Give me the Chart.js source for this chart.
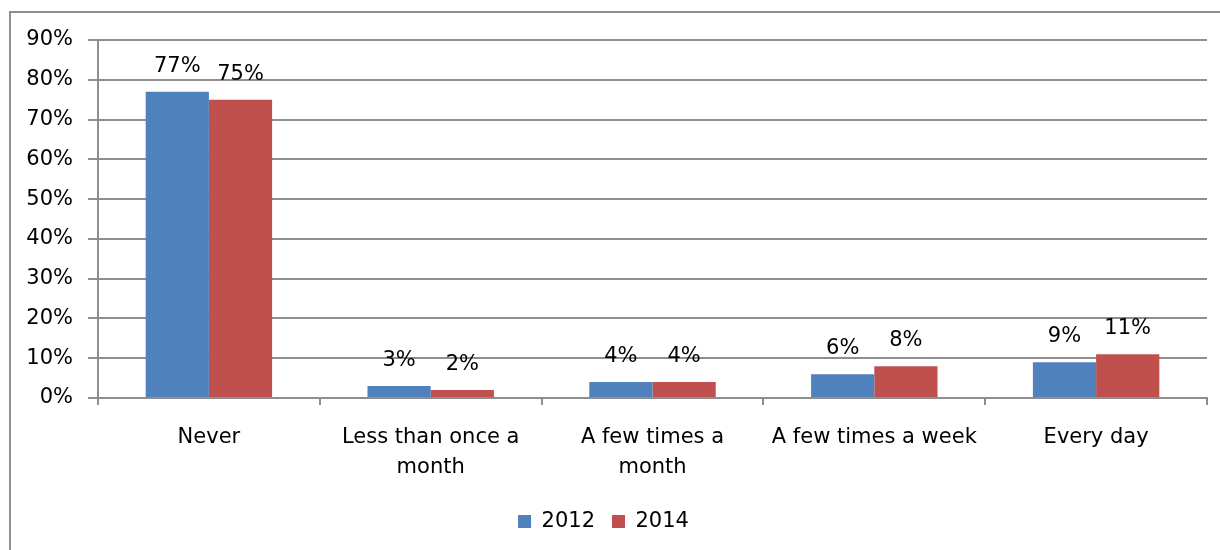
<!DOCTYPE html>
<html>
<head>
<meta charset="utf-8">
<script src="https://cdn.jsdelivr.net/npm/chart.js@4/dist/chart.umd.min.js"></script>
<style>
  html, body { margin: 0; padding: 0; background: #fff; }
  #wrap { width: 1220px; height: 550px; position: relative; }
</style>
</head>
<body>
<div id="wrap"><canvas id="c" width="1220" height="550"></canvas></div>
<script>
// Categories and series (percent of respondents)
const categories = [
  "Never",
  ["Less than once a", "month"],
  ["A few times a", "month"],
  "A few times a week",
  "Every day"
];
const values2012 = [77, 3, 4, 6, 9];
const values2014 = [75, 2, 4, 8, 11];
const seriesNames = ["2012", "2014"];
const yTicks = [0, 10, 20, 30, 40, 50, 60, 70, 80, 90];

const FONT = "DejaVu Sans";
const FONT_SIZE = 21;
const GRID = "#8e8e8e";

// Frame around the whole chart
const framePlugin = {
  id: "frame",
  beforeDraw(chart) {
    const ctx = chart.ctx;
    ctx.save();
    ctx.strokeStyle = GRID;
    ctx.lineWidth = 2;
    ctx.strokeRect(10, 12, 1300, 700);
    ctx.restore();
  }
};

// Percentage labels above each bar
const valueLabels = {
  id: "valueLabels",
  afterDatasetsDraw(chart) {
    const ctx = chart.ctx;
    ctx.save();
    ctx.font = `${FONT_SIZE}px "${FONT}"`;
    ctx.fillStyle = "#000";
    ctx.textAlign = "center";
    ctx.textBaseline = "alphabetic";
    chart.data.datasets.forEach((ds, di) => {
      const meta = chart.getDatasetMeta(di);
      meta.data.forEach((bar, i) => {
        ctx.fillText(ds.data[i] + "%", bar.x, bar.y - 20);
      });
    });
    ctx.restore();
  }
};

new Chart(document.getElementById("c"), {
  type: "bar",
  data: {
    labels: categories,
    datasets: [
      { label: seriesNames[0], data: values2012, backgroundColor: "#4f81bd" },
      { label: seriesNames[1], data: values2014, backgroundColor: "#c0504d" }
    ]
  },
  options: {
    responsive: false,
    animation: false,
    devicePixelRatio: 1,
    layout: { padding: { top: 40, right: 13, left: 0, bottom: 8 } },
    datasets: {
      bar: { categoryPercentage: 0.57, barPercentage: 1.0 }
    },
    scales: {
      x: {
        offset: true,
        grid: {
          offset: true,
          drawOnChartArea: false,
          drawTicks: true,
          tickLength: 7,
          color: GRID,
          lineWidth: 2
        },
        border: { display: true, color: GRID, width: 2 },
        ticks: {
          color: "#000",
          padding: 17,
          maxRotation: 0,
          autoSkip: false,
          font: { family: FONT, size: FONT_SIZE, lineHeight: 1.45 }
        },
        afterFit(scale) { scale.height = 96; }
      },
      y: {
        min: 0,
        max: 90,
        afterBuildTicks(scale) { scale.ticks = yTicks.map(v => ({ value: v })); },
        grid: {
          color: GRID,
          lineWidth: 2,
          tickLength: 10
        },
        border: { display: true, color: GRID, width: 2 },
        ticks: {
          color: "#000",
          padding: 15,
          font: { family: FONT, size: FONT_SIZE },
          callback: v => v + "%"
        },
        afterFit(scale) { scale.width = 98; }
      }
    },
    plugins: {
      legend: {
        position: "bottom",
        labels: {
          boxWidth: 13,
          boxHeight: 13,
          padding: 17,
          color: "#000",
          font: { family: FONT, size: FONT_SIZE }
        }
      },
      tooltip: { enabled: false }
    }
  },
  plugins: [framePlugin, valueLabels]
});
</script>
</body>
</html>
